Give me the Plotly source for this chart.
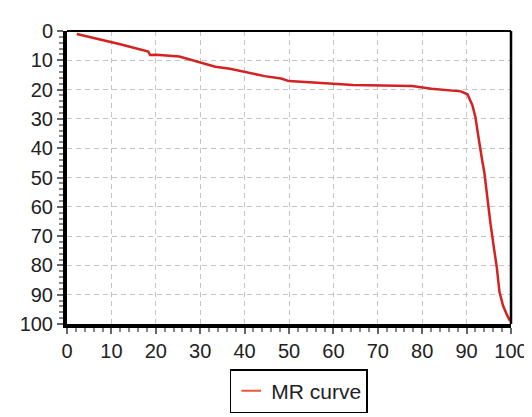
import plotly.graph_objects as go

x_vals = [2.2, 5, 9.1, 12, 15, 18.3, 18.7, 20.1, 25.3, 29.7, 31.2, 33.4, 36.7, 40.8,
          44.5, 48.2, 50, 60, 64.4, 77.7, 82.1, 88.7, 90.2, 91.3, 92.0, 92.4, 92.8,
          93.5, 94.0, 94.5, 94.6, 95.4, 96.1, 96.8, 97.4, 98.2, 99.1, 99.8]
y_vals = [1, 2, 3.3, 4.5, 5.7, 7, 8.2, 8.1, 8.7, 10.5, 11.2, 12.2, 12.9, 14.1,
          15.4, 16.2, 17.1, 18, 18.4, 18.8, 19.7, 20.6, 21.6, 25.3, 29.5, 33.6, 37.8,
          44.1, 48.3, 54.5, 57.7, 66, 73.4, 80.7, 89, 93.7, 96.9, 99]
tick_vals = list(range(0, 101, 10))
series_name = "MR curve"

red = "#d42222"
fig = go.Figure()
fig.add_trace(go.Scatter(x=x_vals, y=y_vals, mode="lines",
                         line=dict(color=red, width=2.5), showlegend=False))
fig.add_trace(go.Scatter(x=[None], y=[None], mode="markers", name=series_name,
                         marker=dict(symbol="line-ew-open", size=14,
                                     line=dict(color=red, width=2))))

axis_common = dict(
    range=[0, 100], tickvals=tick_vals, showgrid=True, gridcolor="#c4c4c4",
    griddash="5px,4px", gridwidth=1, showline=True, linecolor="black",
    ticks="outside", ticklen=6, tickwidth=1.5, tickcolor="#666",
    minor=dict(dtick=2, ticks="outside", ticklen=4, tickwidth=1.5, tickcolor="#888",
               showgrid=False),
    tickfont=dict(size=20, color="#222"), zeroline=False,
)
fig.update_xaxes(**axis_common, linewidth=4)
fig.update_yaxes(**axis_common, linewidth=4, autorange=False)
fig.update_yaxes(range=[100, 0])

fig.add_shape(type="line", xref="paper", yref="paper", x0=0, x1=1, y0=1, y1=1,
              line=dict(color="black", width=2))
fig.add_shape(type="line", xref="paper", yref="paper", x0=1, x1=1, y0=0, y1=1,
              line=dict(color="black", width=2.5))

fig.update_layout(
    width=532, height=417,
    margin=dict(l=59, r=21, t=16, b=82),
    paper_bgcolor="white", plot_bgcolor="white",
    font=dict(family="Liberation Sans, Arial, sans-serif", color="#222"),
    legend=dict(orientation="h", x=0.522, xanchor="center", y=-0.154, yanchor="top",
                bordercolor="black", borderwidth=1.5, font=dict(size=21),
                itemwidth=30),
)
fig.write_html("out.html")
